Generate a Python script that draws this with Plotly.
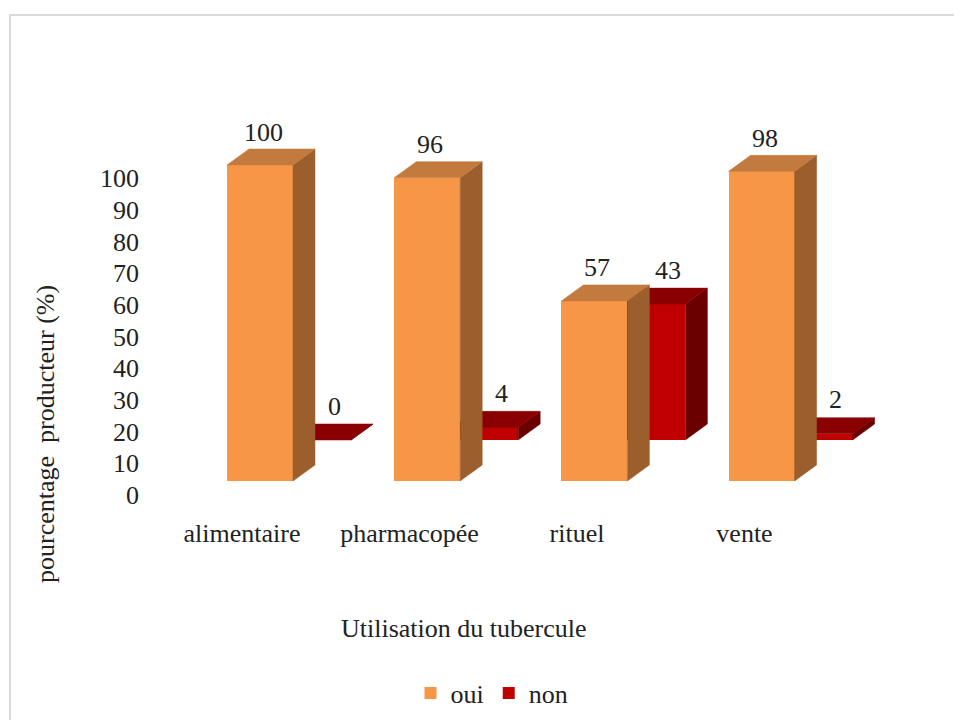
import plotly.graph_objects as go

# ---------------- data ----------------
categories = ["alimentaire", "pharmacopée", "rituel", "vente"]
oui = [100, 96, 57, 98]
non = [0, 4, 43, 2]
y_ticks = [0, 10, 20, 30, 40, 50, 60, 70, 80, 90, 100]
series_names = ["oui", "non"]
x_title = "Utilisation du tubercule"
y_title = "pourcentage  producteur (%)"

# ---------------- layout geometry (pixels) ----------------
W, H = 962, 720
PAGE = 8                      # default body margin of the html page
PW, PH = 760, 405             # plot area size
L = 140 - PAGE                # plot area left edge (figure px)
T = 110 - PAGE                # plot area top edge (figure px)
R = W - L - PW
B = H - T - PH
FONT = "Liberation Serif, Times New Roman, serif"
TXT = "#222222"


def fx(px):   # screen px -> figure px
    return px - PAGE


def xrange_for(px_zero, px_per_unit):
    r0 = -(fx(px_zero) - L) / px_per_unit
    return [r0, r0 + PW / px_per_unit]


def yrange_for(py_zero, px_per_unit):
    r0 = -((H - B) - fx(py_zero)) / px_per_unit
    return [r0, r0 + PH / px_per_unit]


def paper_x(px):
    return (fx(px) - L) / PW


def paper_y(py):
    return ((H - B) - fx(py)) / PH


CAT_PX = 167.2      # px between categories
VAL_PX = 3.16       # px per percentage point
BW = 66 / CAT_PX    # bar width (category units)
DX = 22 / CAT_PX    # 3D depth, x
DY = 16 / VAL_PX    # 3D depth, y

ORANGE = dict(front="#F79646", top="#C27A3E", side="#9C5E2C")
RED = dict(front="#C00000", top="#8A0000", side="#6A0000")

xs = list(range(len(categories)))


def face_traces(vals, xa, ya, col):
    out = []
    for i, v in zip(xs, vals):
        x0, x1 = i - BW / 2, i + BW / 2
        out.append(go.Scatter(
            x=[x1, x1 + DX, x1 + DX, x1, x1], y=[0, DY, v + DY, v, 0],
            fill="toself", fillcolor=col["side"], mode="lines",
            line=dict(width=0.5, color=col["side"]),
            xaxis=xa, yaxis=ya, hoverinfo="skip", showlegend=False))
        out.append(go.Scatter(
            x=[x0, x1, x1 + DX, x0 + DX, x0], y=[v, v, v + DY, v + DY, v],
            fill="toself", fillcolor=col["top"], mode="lines",
            line=dict(width=0.5, color=col["top"]),
            xaxis=xa, yaxis=ya, hoverinfo="skip", showlegend=False))
    return out


fig = go.Figure()

# base (label) axes: invisible anchor trace
fig.add_trace(go.Scatter(x=xs, y=[0] * len(xs), mode="markers",
                         marker=dict(opacity=0), hoverinfo="skip",
                         showlegend=False))

# "non" series (further back) on x2/y2
for t in face_traces(non, "x2", "y2", RED):
    fig.add_trace(t)
fig.add_trace(go.Bar(x=xs, y=non, width=BW, name=series_names[1],
                     marker=dict(color=RED["front"], line=dict(width=0)),
                     xaxis="x2", yaxis="y2", legendrank=2))

# "oui" series (front) on x3/y3
for t in face_traces(oui, "x3", "y3", ORANGE):
    fig.add_trace(t)
fig.add_trace(go.Bar(x=xs, y=oui, width=BW, name=series_names[0],
                     marker=dict(color=ORANGE["front"], line=dict(width=0)),
                     xaxis="x3", yaxis="y3", legendrank=1))

annotations = []
for i, v in zip(xs, oui):
    annotations.append(dict(x=i, y=v, xref="x3", yref="y3", text=str(v),
                            showarrow=False, yshift=33, xshift=3,
                            font=dict(size=26, color=TXT, family=FONT)))
for i, v in zip(xs, non):
    annotations.append(dict(x=i, y=v, xref="x2", yref="y2", text=str(v),
                            showarrow=False, yshift=34, xshift=16,
                            font=dict(size=26, color=TXT, family=FONT)))
annotations.append(dict(text=x_title, xref="paper", yref="paper",
                        x=paper_x(464), y=paper_y(628),
                        showarrow=False, xanchor="center", yanchor="middle",
                        font=dict(size=26, color=TXT, family=FONT)))
annotations.append(dict(text=y_title, xref="paper", yref="paper",
                        x=paper_x(45), y=paper_y(434),
                        textangle=-90, showarrow=False,
                        xanchor="center", yanchor="middle",
                        font=dict(size=26, color=TXT, family=FONT)))

hidden = dict(visible=False, showgrid=False, zeroline=False, fixedrange=True)

fig.update_layout(
    width=W, height=H,
    margin=dict(l=L, r=R, t=T, b=B, autoexpand=False),
    paper_bgcolor="white", plot_bgcolor="rgba(0,0,0,0)",
    font=dict(family=FONT, size=26, color=TXT),
    bargap=0,
    xaxis=dict(range=xrange_for(242, 167.5), tickvals=xs, ticktext=categories,
               showgrid=False, zeroline=False, showline=False, ticks="",
               tickfont=dict(size=26, color=TXT, family=FONT)),
    yaxis=dict(range=yrange_for(495, 3.17), tickvals=y_ticks,
               showgrid=False, zeroline=False, showline=False, ticks="",
               tickfont=dict(size=26, color=TXT, family=FONT)),
    xaxis2=dict(overlaying="x", range=xrange_for(318, CAT_PX), **hidden),
    yaxis2=dict(overlaying="y", range=yrange_for(440, VAL_PX), **hidden),
    xaxis3=dict(overlaying="x", range=xrange_for(260, CAT_PX), **hidden),
    yaxis3=dict(overlaying="y", range=yrange_for(481, VAL_PX), **hidden),
    showlegend=True,
    legend=dict(orientation="h", x=paper_x(492), xanchor="center",
                y=paper_y(693), yanchor="middle",
                font=dict(size=26, color=TXT, family=FONT),
                itemwidth=30, traceorder="normal"),
    annotations=annotations,
    shapes=[dict(type="rect", xref="paper", yref="paper", layer="below",
                 x0=paper_x(10), x1=paper_x(980),
                 y0=paper_y(740), y1=paper_y(15),
                 line=dict(color="#D9D9D9", width=2))],
)

fig.write_html("out.html")
